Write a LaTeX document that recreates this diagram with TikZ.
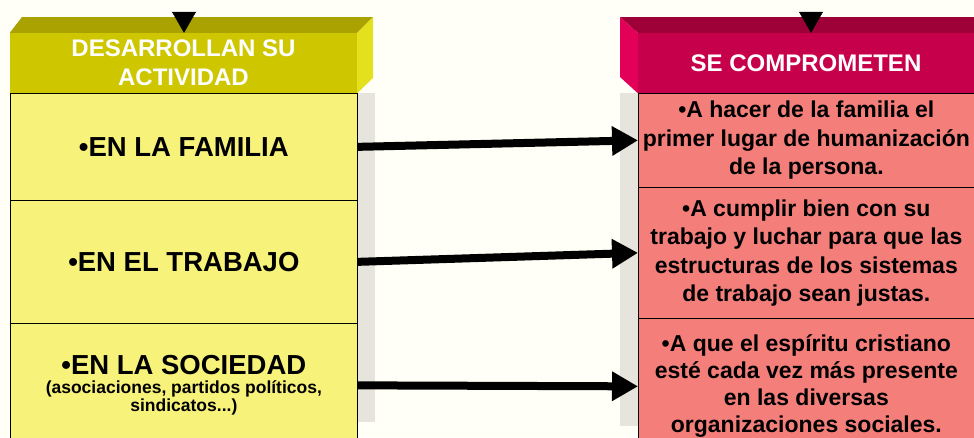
\documentclass[tikz,border=0pt]{standalone}
\usepackage{fontspec}
\setmainfont{Liberation Sans}
\usetikzlibrary{arrows.meta}
\definecolor{paper}{RGB}{255,255,248}
\definecolor{stripgray}{RGB}{230,228,220}
\definecolor{hdryel}{RGB}{206,199,0}
\definecolor{topyel}{RGB}{169,162,0}
\definecolor{sideyel}{RGB}{228,224,30}
\definecolor{rowyel}{RGB}{247,242,122}
\definecolor{hdrred}{RGB}{198,0,74}
\definecolor{topred}{RGB}{158,0,56}
\definecolor{sidered}{RGB}{226,0,88}
\definecolor{rowred}{RGB}{244,126,122}
\tikzset{
  head/.style = {align=center, inner sep=0pt, text=white, minimum height=60pt,
    font=\bfseries\fontsize{24}{29}\selectfont},
  row_l/.style = {draw=black, line width=.7pt, fill=rowyel, anchor=north west,
    inner sep=0pt, minimum width=347pt, align=center,
    font=\bfseries\fontsize{27.5}{32}\selectfont},
  row_r/.style = {draw=black, line width=.7pt, fill=rowred, anchor=north west,
    inner sep=0pt, minimum width=336pt, align=center,
    font=\bfseries\fontsize{23}{28.5}\selectfont},
  link/.style = {-{Triangle[length=26pt,width=28pt]}, line width=8pt},
  feed/.style = {-{Triangle[length=21pt,width=24pt]}, line width=.4pt}}

\begin{document}
\begin{tikzpicture}[x=1pt,y=-1pt]
\useasboundingbox (0,0) rectangle (974,437);
\clip (0,0) rectangle (974,437);
\fill[paper] (0,0) rectangle (974,437);

% left column
\fill[stripgray] (357,93) rectangle (375,422);
\node[head, fill=hdryel, minimum width=347pt] (hdr_l) at (183.5,63)
  {DESARROLLAN SU\\ACTIVIDAD};
\fill[topyel] (hdr_l.north west) -- (22,17) -- (373,17) -- (hdr_l.north east) -- cycle;
\fill[sideyel] (hdr_l.north east) -- (373,17) -- (373,78) -- (hdr_l.south east) -- cycle;
\node[row_l, minimum height=107pt] (fam_l) at (10,93) {•EN LA FAMILIA};
\node[row_l, minimum height=123pt] (trab_l) at (10,200) {•EN EL TRABAJO};
\node[row_l, minimum height=124pt, font=\bfseries\fontsize{17.5}{18.5}\selectfont]
  (soc_l) at (10,323)
  {{\fontsize{27.5}{32}\selectfont •EN LA SOCIEDAD}\\
   (asociaciones, partidos políticos,\\sindicatos...)};

% right column
\fill[stripgray] (620,93) rectangle (638,426);
\node[head, fill=hdrred, minimum width=336pt] (hdr_r) at (806,63) {SE COMPROMETEN};
\fill[topred] (hdr_r.north west) -- (620,17) -- (974,17) -- (hdr_r.north east) -- cycle;
\fill[sidered] (hdr_r.north west) -- (620,17) -- (620,77) -- (hdr_r.south west) -- cycle;
\node[row_r, minimum height=94pt] (fam_r) at (638,93)
  {•A hacer de la familia el\\primer lugar de humanización\\de la persona.};
\node[row_r, minimum height=131pt] (trab_r) at (638,187)
  {•A cumplir bien con su\\trabajo y luchar para que las\\estructuras de los sistemas\\de trabajo sean justas.};
\node[row_r, minimum height=136pt, font=\bfseries\fontsize{23}{27}\selectfont]
  (soc_r) at (638,318)
  {•A que el espíritu cristiano\\esté cada vez más presente\\en las diversas\\organizaciones sociales.};

% incoming tips
\coordinate (in_l) at (184,12);
\coordinate (in_r) at (811,12);
\draw[feed] (in_l) -- (in_l |- hdr_l.north);
\draw[feed] (in_r) -- (in_r |- hdr_r.north);

% links
\draw[link] (fam_l.east) -- (fam_r.west);
\draw[link] (trab_l.east) -- (trab_r.west);
\draw[link] (soc_l.east) -- (soc_r.west);
\end{tikzpicture}
\end{document}
